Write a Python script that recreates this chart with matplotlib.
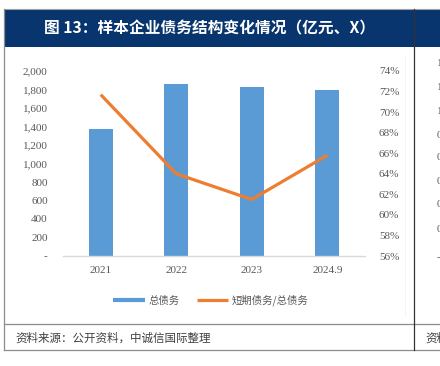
import matplotlib
matplotlib.use("Agg")
import matplotlib.pyplot as plt
from matplotlib.lines import Line2D
from matplotlib.patches import Rectangle
from matplotlib.ticker import FuncFormatter, MultipleLocator

categories = ["2021", "2022", "2023", "2024.9"]
total_debt = [1370, 1860, 1824, 1795]
short_ratio = [0.717, 0.640, 0.615, 0.658]
title = "图 13：样本企业债务结构变化情况（亿元、X）"
source = "资料来源：公开资料，中诚信国际整理"
legend_labels = ["总债务", "短期债务/总债务"]
side_labels = ["1.4", "1.2", "1.0", "0.8", "0.6", "0.4", "0.2", "0.0", "-0.2"]

W, H = 440, 366
fig = plt.figure(figsize=(W / 100, H / 100), dpi=100)
fig.patch.set_facecolor("white")

def fx(x):
    return x / W

def fy(y):
    return 1 - y / H

navy = "#08356E"
gray_txt = "#595959"
cjk = ["Noto Sans CJK SC", "DejaVu Sans"]
serif = ["Liberation Serif", "DejaVu Serif"]

# Title band
fig.add_artist(Rectangle((fx(4), fy(47)), fx(440) - fx(4), fy(9) - fy(47),
                         transform=fig.transFigure, facecolor=navy, edgecolor="none"))
fig.text(fx(210), fy(28), title, color="white", fontsize=11.3, fontweight="bold",
         family=cjk, ha="center", va="center")

# Frame lines
def hline(y, x0, x1, color="#8C8C8C", lw=1.0):
    fig.add_artist(Line2D([fx(x0), fx(x1)], [fy(y), fy(y)], transform=fig.transFigure,
                          color=color, lw=lw))

def vline(x, y0, y1, color="#8C8C8C", lw=1.0):
    fig.add_artist(Line2D([fx(x), fx(x)], [fy(y0), fy(y1)], transform=fig.transFigure,
                          color=color, lw=lw))

hline(8.5, 4, 440, color="#A0A0A0", lw=0.8)
hline(324, 4, 440, color="#8C8C8C", lw=0.9)
hline(350, 4, 440, color="#8C8C8C", lw=0.9)
vline(4, 8.5, 350, color="#8C8C8C", lw=0.9)
vline(414, 9, 350, color="#333333", lw=0.9)
vline(405, 55, 315, color="#F2F2F2", lw=0.6)

# Main axes
ax = fig.add_axes([fx(63), fy(256), fx(365) - fx(63), fy(71) - fy(256)])
x = list(range(len(categories)))
ax.bar(x, total_debt, width=0.32, color="#5B9BD5", zorder=2)
ax.set_xlim(-0.5, len(categories) - 0.5)
ax.set_ylim(0, 2000)
ax.yaxis.set_major_locator(MultipleLocator(200))
ax.yaxis.set_major_formatter(FuncFormatter(lambda v, p: "-" if abs(v) < 1e-9 else f"{v:,.0f}"))
ax.set_xticks(x)
ax.set_xticklabels(categories)
for s in ["top", "right", "left"]:
    ax.spines[s].set_visible(False)
ax.spines["bottom"].set_color("#D9D9D9")
ax.spines["bottom"].set_linewidth(1.0)
ax.tick_params(axis="both", length=0, labelsize=8, labelcolor=gray_txt)
ax.tick_params(axis="y", pad=11)
ax.tick_params(axis="x", pad=7)
for lab in ax.get_xticklabels() + ax.get_yticklabels():
    lab.set_family(serif)

ax2 = ax.twinx()
ax2.plot(x, short_ratio, color="#ED7D31", lw=2.3, solid_capstyle="butt", zorder=3)
ax2.set_ylim(0.56, 0.74)
ax2.yaxis.set_major_locator(MultipleLocator(0.02))
ax2.yaxis.set_major_formatter(FuncFormatter(lambda v, p: f"{v * 100:.0f}%"))
for s in ["top", "right", "left", "bottom"]:
    ax2.spines[s].set_visible(False)
ax2.tick_params(axis="y", length=0, labelsize=8, labelcolor=gray_txt, pad=10)
for lab in ax2.get_yticklabels():
    lab.set_family(serif)

handles = [Line2D([], [], color="#5B9BD5", lw=3.0, solid_capstyle="butt"),
           Line2D([], [], color="#ED7D31", lw=2.3, solid_capstyle="butt")]
leg = ax.legend(handles, legend_labels, loc="center", bbox_to_anchor=(0.49, -0.24),
                ncol=2, frameon=False, handlelength=3.0, handletextpad=0.4,
                columnspacing=1.6, prop={"family": cjk, "size": 7.5})
for t in leg.get_texts():
    t.set_color(gray_txt)

# Source
fig.text(fx(15), fy(338), source, fontsize=8.3, family=cjk, color="#404040",
         ha="left", va="center", style="italic")

# Neighbouring panel fragments
side_y = [63, 87, 111, 135, 158, 182, 205, 229, 257]
for sy, sl in zip(side_y, side_labels):
    fig.text(fx(436.5), fy(sy), sl, fontsize=8, family=serif, color=gray_txt,
             ha="left", va="center")
fig.text(fx(425), fy(338), "资料来源", fontsize=8.3, family=cjk, color="#404040",
         ha="left", va="center")

fig.savefig("out.png", dpi=100)
